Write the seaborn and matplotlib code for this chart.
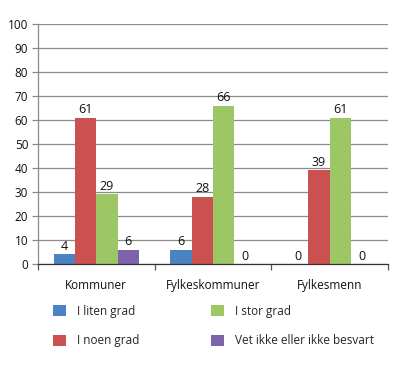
import matplotlib
matplotlib.use("Agg")
import matplotlib.pyplot as plt
import seaborn as sns
import pandas as pd
from matplotlib.patches import Patch

categories = ["Kommuner", "Fylkeskommuner", "Fylkesmenn"]
series = ["I liten grad", "I noen grad", "I stor grad", "Vet ikke eller ikke besvart"]
i_liten_grad = [4, 6, 0]
i_noen_grad = [61, 28, 39]
i_stor_grad = [29, 66, 61]
vet_ikke = [6, 0, 0]
colors = ["#4a82c4", "#cb5151", "#9dc764", "#7f62ac"]

values = [i_liten_grad, i_noen_grad, i_stor_grad, vet_ikke]
rows = []
for s, vals in zip(series, values):
    for c, v in zip(categories, vals):
        rows.append({"Kategori": c, "Serie": s, "Verdi": v})
df = pd.DataFrame(rows)

sns.set_style("white")
plt.rcParams["font.family"] = ["Open Sans", "DejaVu Sans"]
plt.rcParams["font.size"] = 8.5

fig = plt.figure(figsize=(4.0, 3.7), dpi=100)
ax = fig.add_axes([0.095, 0.2865, 0.875, 0.6485])

sns.barplot(data=df, x="Kategori", y="Verdi", hue="Serie", order=categories,
            hue_order=series, palette=colors, width=0.73, ax=ax,
            saturation=1, legend=False, linewidth=0)

for cont in ax.containers:
    ax.bar_label(cont, fmt="%d", padding=1, fontsize=9, color="#111111")

ax.set_ylim(0, 100)
ax.set_xlim(-0.5, 2.5)
ax.set_yticks(range(0, 101, 10))
ax.yaxis.grid(True, color="#8a8a8a", linewidth=0.9)
ax.set_axisbelow(True)
ax.set_xlabel("")
ax.set_ylabel("")
for side in ["top", "right"]:
    ax.spines[side].set_visible(False)
ax.spines["left"].set_color("#8a8a8a")
ax.spines["left"].set_linewidth(0.9)
ax.spines["bottom"].set_color("#333333")
ax.spines["bottom"].set_linewidth(0.9)
ax.tick_params(axis="y", left=True, length=4, width=0.9, color="#8a8a8a",
               labelsize=8.5, pad=3, labelcolor="#111111")
ax.tick_params(axis="x", bottom=False, labelsize=8.5, pad=7, labelcolor="#111111")
ax.set_xticks([-0.5, 0.5, 1.5, 2.5], minor=True)
ax.tick_params(axis="x", which="minor", bottom=True, length=4, width=0.9, color="#555555")

handles = [Patch(facecolor=c, edgecolor="none") for c in colors]
fig.legend(handles, series, ncol=2, loc="upper left", bbox_to_anchor=(0.105, 0.205),
           frameon=False, fontsize=8.5, handlelength=1.1, handleheight=1.1,
           handletextpad=1.0, columnspacing=6.0, labelspacing=1.4)

fig.savefig("out.png", dpi=100)
